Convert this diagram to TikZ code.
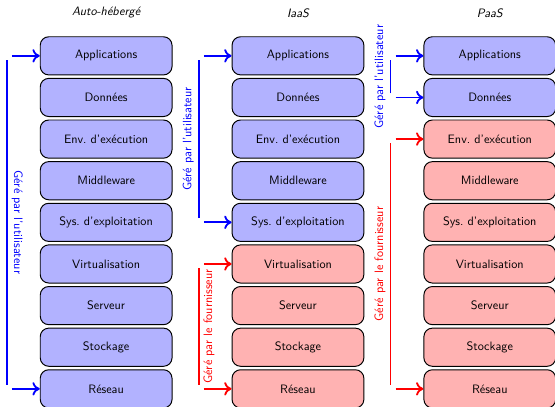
\documentclass[tikz,border=0pt]{standalone}
\usepackage{tikz}
\usetikzlibrary{positioning,arrows.meta}
\tikzstyle{couche}=  [draw=black, thick, rounded corners=7pt, minimum width=3.8cm, minimum height=1.1cm, font=\sffamily]
\tikzstyle{user}=    [fill=blue!30]
\tikzstyle{fourn}=   [fill=red!30]
\tikzstyle{gere}=    [line width=1.5pt]
\tikzstyle{fleche}=  [gere, -{To[length=6pt,width=11pt]}]
\tikzstyle{titre}=   [font=\sffamily\itshape]
\tikzstyle{qui}=     [font=\sffamily, midway, sloped]

\begin{document}
\begin{tikzpicture}
 \useasboundingbox (0,0) rectangle (16,11.73);
 \def\dy{1.2}
 \def\ytop{10.12}

 % three stacks, the first \nb layers of each are managed by the user
 \foreach \col/\cx/\nb/\titre in {auto/3.06/9/Auto-hébergé, iaas/8.59/5/IaaS, paas/14.12/2/PaaS}
 {
  \node[titre] (\col-titre) at (\cx,11.36) {\titre};
  \foreach \nom/\txt [count=\i] in {app/Applications, don/Données, env/Env.\ d'exécution, mid/Middleware, os/Sys.\ d'exploitation, virt/Virtualisation, serv/Serveur, stock/Stockage, res/Réseau}
  {
   \ifnum\i>\nb \def\qui{fourn}\else\def\qui{user}\fi
   \pgfmathsetmacro\y{\ytop-(\i-1)*\dy}
   \node[couche,\qui] (\col-\nom) at (\cx,\y) {\txt};
  }
 }

 % start of the arrows, left of the first and last layer of each part
 \foreach \b in {auto-app,auto-res,iaas-app,iaas-os,iaas-virt,iaas-res,paas-app,paas-don,paas-env,paas-res}
 {
  \coordinate[left=0.8cm of \b.west] (\b-g);
  \coordinate[left=0.15cm of \b-g] (\b-v);
 }
 \foreach \b in {auto-app,auto-res,iaas-app,iaas-os,paas-app,paas-don}
  \draw[fleche,blue] (\b-g) -- (\b);
 \foreach \b in {iaas-virt,iaas-res,paas-env,paas-res}
  \draw[fleche,red] (\b-g) -- (\b);

 % Auto-heberge
 \draw[gere,blue] ([yshift=-0.12cm]auto-app-v) -- ([yshift=0.12cm]auto-res-v) node[qui,above] {Géré par l'utilisateur};

 % IaaS
 \draw[gere,blue] ([yshift=0.12cm]iaas-os-v) -- ([yshift=-0.12cm]iaas-app-v) node[qui,above] {Géré par l'utilisateur};
 \draw[gere,red] ([yshift=0.12cm]iaas-res-v) -- ([yshift=-0.12cm]iaas-virt-v) node[qui,below] {Géré par le fournisseur};

 % PaaS
 \draw[gere,blue] ([yshift=0.12cm]paas-don-v) -- ([yshift=-0.12cm]paas-app-v) node[qui,above] {Géré par l'utilisateur};
 \draw[gere,red] ([yshift=0.12cm]paas-res-v) -- ([yshift=-0.12cm]paas-env-v) node[qui,above] {Géré par le fournisseur};
\end{tikzpicture}
\end{document}
